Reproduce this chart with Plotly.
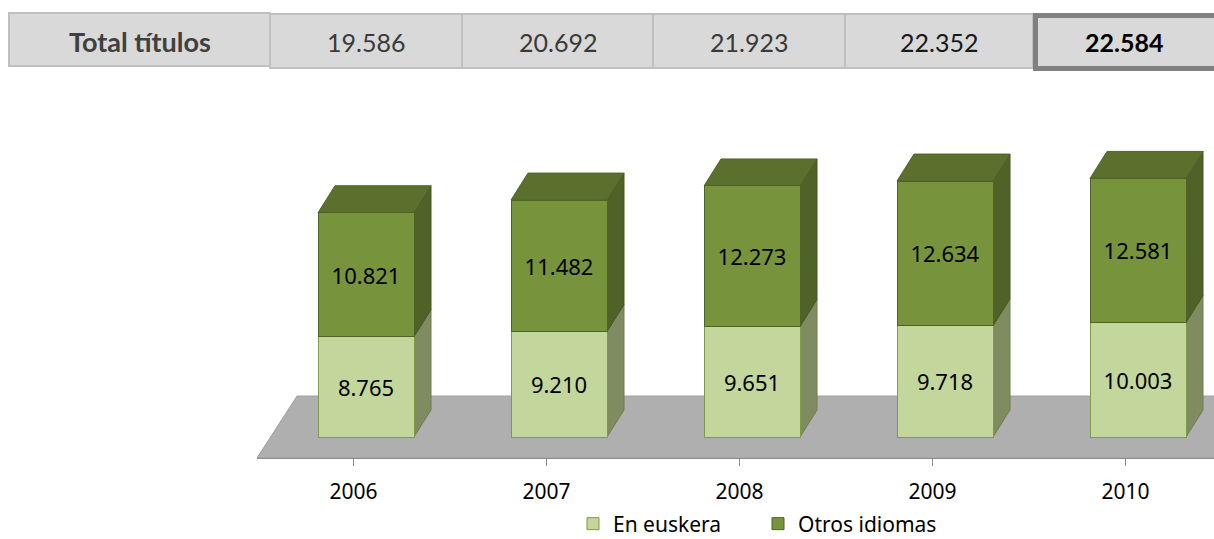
import plotly.graph_objects as go

# ---------------- data ----------------
years = ["2006", "2007", "2008", "2009", "2010"]
en_euskera = [8765, 9210, 9651, 9718, 10003]
otros_idiomas = [10821, 11482, 12273, 12634, 12581]
totals = [19586, 20692, 21923, 22352, 22584]
table_label = "Total títulos"
series_names = ["En euskera", "Otros idiomas"]

# ---------------- geometry helpers ----------------
W, H = 1214, 539
X_LEFT_PX = 257          # left boundary of first category
CAT_PX = 193             # pixels per category
Y_AXIS_PX = 458          # x axis line / floor front edge
Y_ZERO_PX = 437          # bar base
Y_TOP_PX = 100
K = 0.01145              # pixels per unit

x_range = [-0.5, -0.5 + (W - X_LEFT_PX) / CAT_PX]
y_range = [-(Y_AXIS_PX - Y_ZERO_PX) / K, (Y_ZERO_PX - Y_TOP_PX) / K]

DX = 17 / CAT_PX          # depth offset in category units
DY = 27 / K               # depth offset in value units
BAR_W = 96 / CAT_PX
BAR_OFF = -35.5 / CAT_PX  # left edge relative to category centre

LIGHT = "#c3d69b"
DARK = "#77933c"
LIGHT_SIDE = "#7f8b60"
DARK_SIDE = "#4f6228"
DARK_TOP = "#5c702e"


def px(x):
    return x / W


def py(y):
    return 1 - y / H


def poly(pts):
    return "M " + " L ".join(f"{a},{b}" for a, b in pts) + " Z"


fig = go.Figure()

for vals, name, col, lcol in [(en_euskera, series_names[0], LIGHT, "#7f9a48"),
                              (otros_idiomas, series_names[1], DARK, "#4f6228")]:
    fig.add_trace(go.Bar(
        x=list(range(len(years))), y=vals, name=name,
        marker=dict(color=col, line=dict(color=lcol, width=1)),
        width=BAR_W, offset=BAR_OFF,
        texttemplate="%{y:,.0f}", textposition="inside", insidetextanchor="middle",
        textangle=0, constraintext="none",
        textfont=dict(family="Noto Sans", size=22, color="black"),
        hoverinfo="skip",
    ))

shapes = []
# floor
floor_back = y_range[0] + 62 / K
shapes.append(dict(
    type="path", xref="x", yref="y", layer="below",
    path=poly([(x_range[0], y_range[0]), (x_range[0] + 40 / CAT_PX, floor_back),
               (x_range[1] + 1, floor_back), (x_range[1] + 1, y_range[0])]),
    fillcolor="#afafaf", line=dict(color="#a0a0a0", width=1),
))

# 3D faces computed from the data
for i in range(len(years)):
    left = i + BAR_OFF
    right = left + BAR_W
    v1 = en_euskera[i]
    v2 = en_euskera[i] + otros_idiomas[i]
    shapes.append(dict(
        type="path", xref="x", yref="y", layer="below",
        path=poly([(right, 0), (right, v1), (right + DX, v1 + DY), (right + DX, DY)]),
        fillcolor=LIGHT_SIDE, line=dict(color="#6f7d4f", width=1),
    ))
    shapes.append(dict(
        type="path", xref="x", yref="y", layer="below",
        path=poly([(right, v1), (right, v2), (right + DX, v2 + DY), (right + DX, v1 + DY)]),
        fillcolor=DARK_SIDE, line=dict(color="#45561f", width=1),
    ))
    shapes.append(dict(
        type="path", xref="x", yref="y", layer="below",
        path=poly([(left, v2), (left + DX, v2 + DY), (right + DX, v2 + DY), (right, v2)]),
        fillcolor=DARK_TOP, line=dict(color="#4f6228", width=1),
    ))

# ---------------- table row ----------------
cell_x = [9, 270, 462, 653, 845, 1033, 1214]
annotations = []
shapes.append(dict(type="rect", xref="paper", yref="paper",
                   x0=px(cell_x[0]), x1=px(cell_x[1]), y0=py(66), y1=py(13),
                   fillcolor="#d9d9d9", line=dict(color="#c0c0c0", width=2)))
annotations.append(dict(xref="paper", yref="paper", x=px((cell_x[0] + cell_x[1]) / 2), y=py(41),
                        xanchor="center", yanchor="middle",
                        text=f"<b>{table_label}</b>", showarrow=False,
                        font=dict(family="Lato", size=27, color="#404040")))
val_colors = ["#3a3a3a", "#3a3a3a", "#3a3a3a", "#1a1a1a", "#000000"]
for j, t in enumerate(totals):
    x0, x1 = cell_x[j + 1], cell_x[j + 2]
    last = j == len(totals) - 1
    if last:
        shapes.append(dict(type="rect", xref="paper", yref="paper",
                           x0=px(x0 + 2.5), x1=px(x1 + 5), y0=py(68.5), y1=py(15.5),
                           fillcolor="#d9d9d9", line=dict(color="#808080", width=5)))
    else:
        shapes.append(dict(type="rect", xref="paper", yref="paper",
                           x0=px(x0), x1=px(x1), y0=py(68), y1=py(14),
                           fillcolor="#d9d9d9", line=dict(color="#c0c0c0", width=2)))
    txt = f"{t:,}".replace(",", ".")
    if last:
        txt = f"<b>{txt}</b>"
    annotations.append(dict(xref="paper", yref="paper", x=px((x0 + x1) / 2), y=py(42),
                            xanchor="center", yanchor="middle",
                            text=txt, showarrow=False,
                            font=dict(family="Lato", size=25, color=val_colors[j])))

fig.update_layout(
    width=W, height=H,
    margin=dict(l=0, r=0, t=0, b=0, autoexpand=False),
    paper_bgcolor="white", plot_bgcolor="rgba(0,0,0,0)",
    barmode="stack",
    separators=",.",
    showlegend=True,
    legend=dict(orientation="h", x=px(758), xanchor="center", y=py(524), yanchor="middle",
                traceorder="normal",
                font=dict(family="Noto Sans", size=21, color="black"),
                itemwidth=30, entrywidth=140, bgcolor="rgba(0,0,0,0)"),
    xaxis=dict(domain=[px(X_LEFT_PX), 1], range=x_range, automargin=False,
               tickmode="array", tickvals=list(range(len(years))), ticktext=years,
               ticks="outside", ticklen=7, tickcolor="#8c8c8c", tickson="boundaries",
               showline=True, linecolor="#8c8c8c", linewidth=1,
               showgrid=False, zeroline=False, ticklabelstandoff=8,
               tickfont=dict(family="Noto Sans", size=21, color="black")),
    yaxis=dict(domain=[py(Y_AXIS_PX), py(Y_TOP_PX)], range=y_range, automargin=False,
               visible=False, showgrid=False, zeroline=False),
    shapes=shapes, annotations=annotations,
)

fig.write_html("out.html", config={"displayModeBar": False},
               post_script="document.body.style.margin='0';document.body.style.overflow='hidden';")
